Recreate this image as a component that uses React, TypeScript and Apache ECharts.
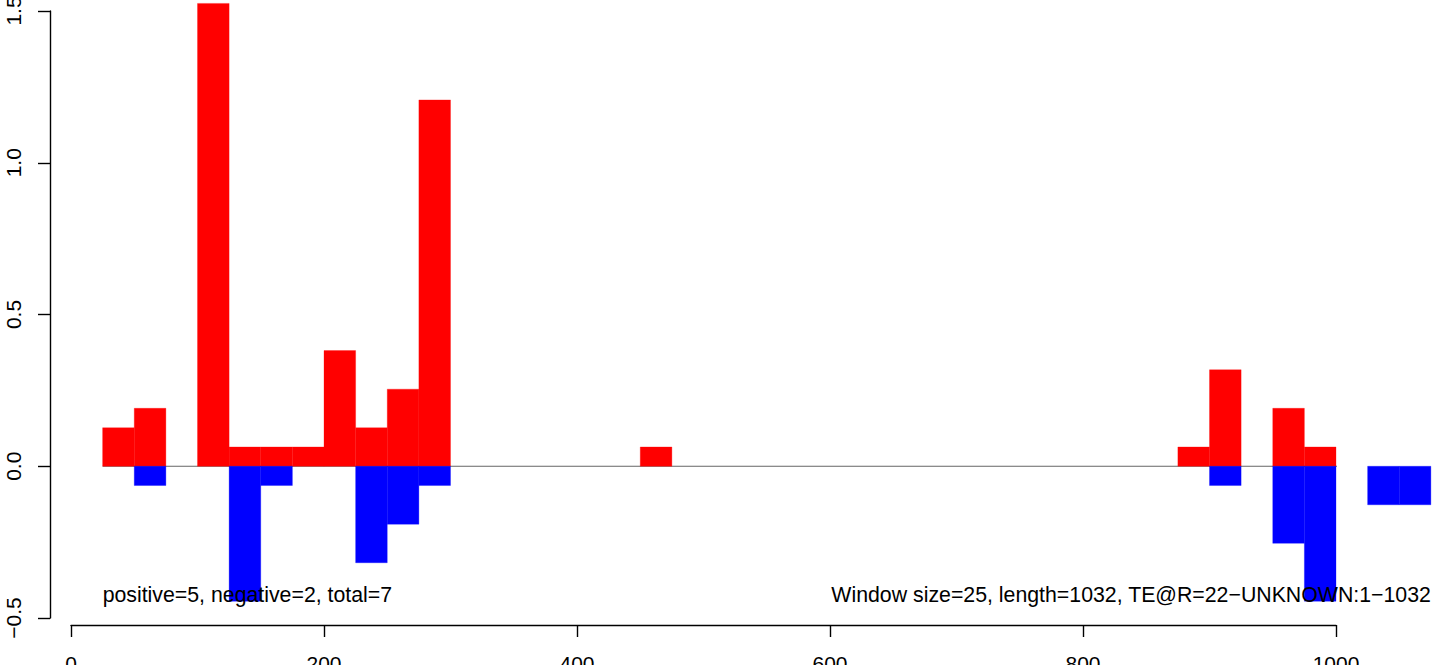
import React, { useEffect, useRef } from "react";
import * as echarts from "echarts";

const windowSize = 25;
const binStarts = [25, 50, 100, 125, 150, 175, 200, 225, 250, 275, 450, 875, 900, 950, 975, 1025, 1050];
const positiveValues = [0.127, 0.191, 1.525, 0.0635, 0.0635, 0.0635, 0.381, 0.127, 0.254, 1.207, 0.0635, 0.0635, 0.318, 0.191, 0.0635, 0, 0];
const negativeValues = [0, -0.0635, 0, -0.445, -0.0635, 0, 0, -0.318, -0.191, -0.0635, 0, 0, -0.0635, -0.254, -0.445, -0.127, -0.127];
const xTicks = [0, 200, 400, 600, 800, 1000];
const yTicks = [-0.5, 0, 0.5, 1.0, 1.5];
const leftNote = "positive=5, negative=2, total=7";
const rightNote = "Window size=25, length=1032, TE@R=22\u2212UNKNOWN:1\u22121032";
const noteY = -0.424;

const FONT = '"Liberation Sans", Arial, Helvetica, sans-serif';
const FS = 21;
const NOTE_FS = 21.3;

function makeBars(values: number[]) {
  const out: number[][] = [];
  values.forEach((v, i) => {
    if (v !== 0) out.push([binStarts[i], binStarts[i] + windowSize, v]);
  });
  return out;
}

function renderBar(color: string) {
  return (_params: any, api: any) => {
    const start = api.value(0);
    const end = api.value(1);
    const v = api.value(2);
    const p0 = api.coord([start, 0]);
    const p1 = api.coord([end, v]);
    return {
      type: "rect",
      shape: {
        x: p0[0],
        y: Math.min(p0[1], p1[1]),
        width: p1[0] - p0[0],
        height: Math.abs(p1[1] - p0[1]),
      },
      style: { fill: color, stroke: color, lineWidth: 0.3 },
    };
  };
}

export default function App() {
  const ref = useRef<HTMLDivElement>(null);
  useEffect(() => {
    if (!ref.current) return;
    const chart = echarts.init(ref.current, undefined, { renderer: "svg" });
    const xInterval = xTicks[1] - xTicks[0];
    const yInterval = yTicks[1] - yTicks[0];
    const lastEnd = binStarts[binStarts.length - 1] + windowSize;
    chart.setOption({
      animation: false,
      backgroundColor: "#ffffff",
      grid: { left: 71, right: 108, top: 11, bottom: 47, containLabel: false, outerBoundsMode: "none" },
      xAxis: {
        type: "value",
        min: xTicks[0],
        max: xTicks[xTicks.length - 1],
        interval: xInterval,
        offset: 7,
        axisLine: { show: true, onZero: false, lineStyle: { color: "#000", width: 1.4 } },
        axisTick: { show: true, length: 12, inside: false, lineStyle: { color: "#000", width: 1.4 } },
        axisLabel: {
          color: "#000",
          fontSize: FS,
          fontFamily: FONT,
          margin: 28,
          showMinLabel: true,
          showMaxLabel: true,
          hideOverlap: false,
          formatter: (v: number) => String(v),
        },
        splitLine: { show: false },
      },
      yAxis: {
        type: "value",
        min: yTicks[0],
        max: yTicks[yTicks.length - 1],
        interval: yInterval,
        offset: 21,
        axisLine: { show: true, onZero: false, lineStyle: { color: "#000", width: 1.4 } },
        axisTick: { show: true, length: 12, inside: false, lineStyle: { color: "#000", width: 1.4 } },
        axisLabel: {
          color: "#000",
          fontSize: FS,
          fontFamily: FONT,
          rotate: 90,
          margin: 26,
          showMinLabel: true,
          showMaxLabel: true,
          formatter: (v: number) => (v < 0 ? "\u2212" : "") + Math.abs(v).toFixed(1),
        },
        splitLine: { show: false },
      },
      series: [
        {
          type: "line",
          data: [[binStarts[0], 0], [lastEnd, 0]],
          symbol: "none",
          clip: false,
          z: 1,
          lineStyle: { color: "#666666", width: 1 },
          silent: true,
        },
        {
          type: "custom",
          clip: false,
          z: 2,
          renderItem: renderBar("#ff0000"),
          data: makeBars(positiveValues),
        },
        {
          type: "custom",
          clip: false,
          z: 2,
          renderItem: renderBar("#0000ff"),
          data: makeBars(negativeValues),
        },
      ],
    });
    const pl = chart.convertToPixel({ gridIndex: 0 }, [binStarts[0], noteY]) as number[];
    const pr = chart.convertToPixel({ gridIndex: 0 }, [lastEnd, noteY]) as number[];
    chart.setOption({
      graphic: [
        {
          type: "text",
          x: pl[0],
          y: pl[1],
          z: 10,
          style: { text: leftNote, font: `${NOTE_FS}px ${FONT}`, fill: "#000", textAlign: "left", textVerticalAlign: "middle" },
        },
        {
          type: "text",
          x: pr[0],
          y: pr[1],
          z: 10,
          style: { text: rightNote, font: `${NOTE_FS}px ${FONT}`, fill: "#000", textAlign: "right", textVerticalAlign: "middle" },
        },
      ],
    });
    return () => chart.dispose();
  }, []);
  return <div ref={ref} style={{ position: "fixed", left: 0, top: 0, width: 1444, height: 665 }} />;
}
